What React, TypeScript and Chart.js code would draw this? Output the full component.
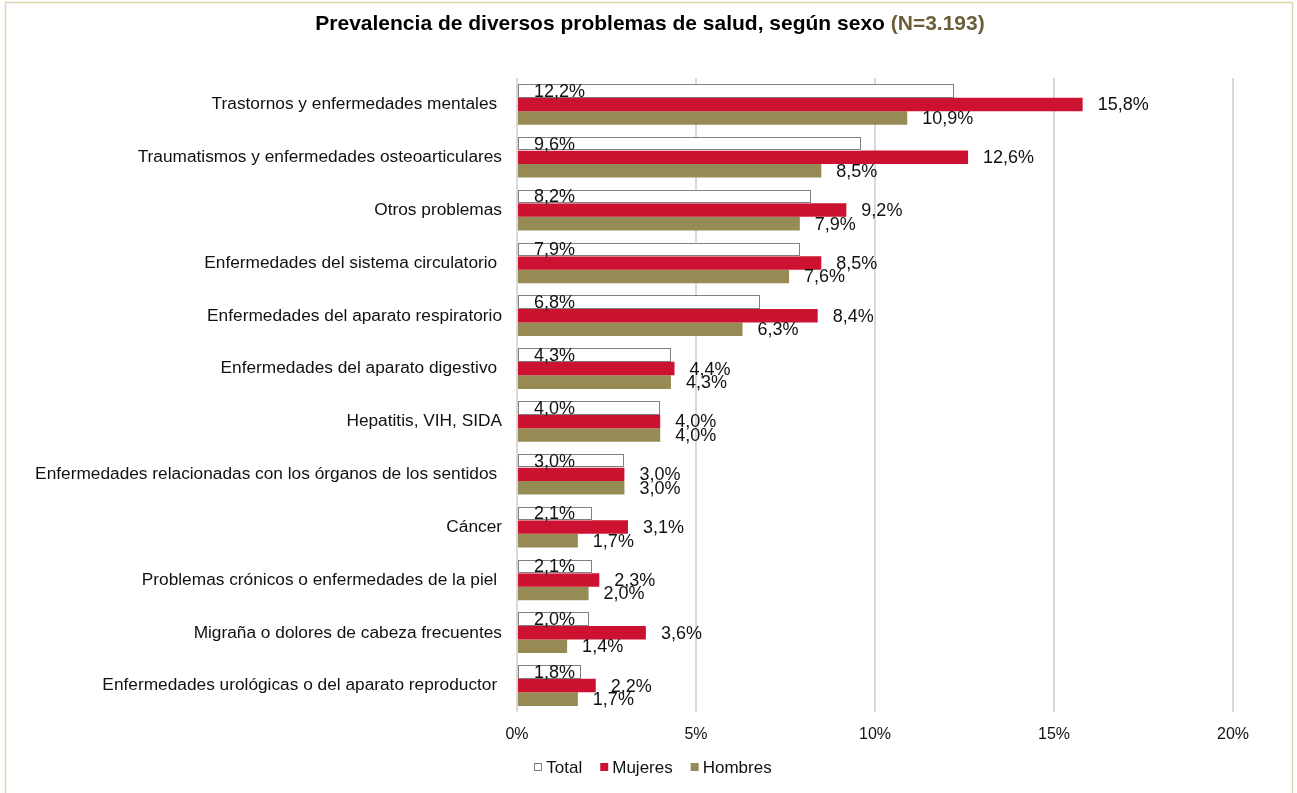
import React, { useEffect, useRef } from "react";
import { Chart, registerables } from "chart.js";

Chart.register(...registerables);

const categories = [
  "Trastornos y enfermedades mentales ",
  "Traumatismos y enfermedades osteoarticulares",
  "Otros problemas",
  "Enfermedades del sistema circulatorio ",
  "Enfermedades del aparato respiratorio",
  "Enfermedades del aparato digestivo ",
  "Hepatitis, VIH, SIDA",
  "Enfermedades relacionadas con los órganos de los sentidos ",
  "Cáncer",
  "Problemas crónicos o enfermedades de la piel ",
  "Migraña o dolores de cabeza frecuentes",
  "Enfermedades urológicas o del aparato reproductor ",
];
const totalValues = [12.2, 9.6, 8.2, 7.9, 6.8, 4.3, 4.0, 3.0, 2.1, 2.1, 2.0, 1.8];
const mujeresValues = [15.8, 12.6, 9.2, 8.5, 8.4, 4.4, 4.0, 3.0, 3.1, 2.3, 3.6, 2.2];
const hombresValues = [10.9, 8.5, 7.9, 7.6, 6.3, 4.3, 4.0, 3.0, 1.7, 2.0, 1.4, 1.7];
const seriesNames = ["Total", "Mujeres", "Hombres"];
const xTicks = [0, 5, 10, 15, 20];

const RED = "#CC1230";
const OLIVE = "#978B55";
const FONT = "'Liberation Sans', Arial, sans-serif";

const fmt = (v: number) => v.toFixed(1).replace(".", ",") + "%";

const decorPlugin = {
  id: "decor",
  beforeDraw(chart: any) {
    const ctx = chart.ctx;
    ctx.save();
    ctx.fillStyle = "#ffffff";
    ctx.fillRect(0, 0, chart.width, chart.height);
    ctx.strokeStyle = "#DDD3B0";
    ctx.lineWidth = 1.5;
    ctx.strokeRect(5.5, 2.5, 1287, 900);
    ctx.restore();
  },
  afterDatasetsDraw(chart: any) {
    const ctx = chart.ctx;
    ctx.save();
    // dotted border on Total bars
    const meta0 = chart.getDatasetMeta(0);
    ctx.strokeStyle = "#000";
    ctx.lineWidth = 1;
    ctx.setLineDash([1, 1]);
    meta0.data.forEach((el: any) => {
      const p = el.getProps(["x", "y", "base", "height"], true);
      const x0 = Math.round(p.base) + 0.5;
      const x1 = Math.round(p.x) - 0.5;
      const y0 = Math.round(p.y - p.height / 2) + 0.5;
      const y1 = Math.round(p.y + p.height / 2) - 0.5;
      ctx.strokeRect(x0, y0, x1 - x0, y1 - y0);
    });
    ctx.setLineDash([]);

    // data labels
    ctx.font = `18px ${FONT}`;
    ctx.fillStyle = "#111";
    ctx.textBaseline = "middle";
    ctx.textAlign = "left";
    chart.data.datasets.forEach((ds: any, di: number) => {
      const meta = chart.getDatasetMeta(di);
      meta.data.forEach((el: any, i: number) => {
        const p = el.getProps(["x", "y", "base"], true);
        const v = ds.data[i];
        if (di === 0) {
          ctx.fillText(fmt(v), p.base + 16, p.y + 1);
        } else {
          ctx.fillText(fmt(v), p.x + 15, p.y + 1);
        }
      });
    });

    // title
    ctx.font = `bold 21px ${FONT}`;
    ctx.textBaseline = "middle";
    const t1 = "Prevalencia de diversos problemas de salud, según sexo ";
    const t2 = "(N=3.193)";
    const w1 = ctx.measureText(t1).width;
    const w2 = ctx.measureText(t2).width;
    const tx = 650 - (w1 + w2) / 2;
    ctx.textAlign = "left";
    ctx.fillStyle = "#000";
    ctx.fillText(t1, tx, 24);
    ctx.fillStyle = "#6B5F3B";
    ctx.fillText(t2, tx + w1, 24);

    // legend
    ctx.font = `17px ${FONT}`;
    const colors = ["#fff", RED, OLIVE];
    const box = 8;
    const gapText = 4;
    const gapItem = 18;
    const widths = seriesNames.map((n) => box + gapText + ctx.measureText(n).width);
    const totalW = widths.reduce((a, b) => a + b, 0) + gapItem * (seriesNames.length - 1);
    let lx = 653 - totalW / 2;
    const ly = 767;
    seriesNames.forEach((n, i) => {
      ctx.fillStyle = colors[i];
      ctx.fillRect(lx, ly - box / 2, box, box);
      if (i === 0) {
        ctx.strokeStyle = "#000";
        ctx.lineWidth = 1;
        ctx.setLineDash([1, 1]);
        ctx.strokeRect(Math.round(lx) + 0.5, Math.round(ly - box / 2) + 0.5, box - 1, box - 1);
        ctx.setLineDash([]);
      }
      ctx.fillStyle = "#111";
      ctx.fillText(n, lx + box + gapText, ly + 1);
      lx += widths[i] + gapItem;
    });
    ctx.restore();
  },
};

export default function App() {
  const ref = useRef<HTMLCanvasElement | null>(null);
  useEffect(() => {
    if (!ref.current) return;
    const chart = new Chart(ref.current, {
      type: "bar",
      data: {
        labels: categories,
        datasets: [
          { label: seriesNames[0], data: totalValues, backgroundColor: "#ffffff", borderWidth: 0 },
          { label: seriesNames[1], data: mujeresValues, backgroundColor: RED, borderWidth: 0 },
          { label: seriesNames[2], data: hombresValues, backgroundColor: OLIVE, borderWidth: 0 },
        ],
      },
      options: {
        indexAxis: "y",
        responsive: false,
        animation: false,
        events: [],
        layout: { padding: { top: 78, right: 64, bottom: 0, left: 0 } },
        datasets: { bar: { categoryPercentage: 0.77, barPercentage: 1 } },
        plugins: {
          legend: { display: false },
          title: { display: false },
          tooltip: { enabled: false },
        },
        scales: {
          x: {
            min: 0,
            max: 20,
            afterFit(scale: any) {
              scale.height = 81;
            },
            afterBuildTicks(scale: any) {
              scale.ticks = xTicks.map((v) => ({ value: v }));
            },
            ticks: {
              callback: (v: any) => v + "%",
              font: { family: FONT, size: 16 },
              color: "#111",
              padding: 13,
              maxRotation: 0,
            },
            grid: { color: "#D9D9D9", lineWidth: 2, drawTicks: false },
            border: { display: false },
          },
          y: {
            afterFit(scale: any) {
              scale.width = 517;
            },
            ticks: {
              font: { family: FONT, size: 17.3 },
              color: "#111",
              padding: 15,
              autoSkip: false,
            },
            grid: { display: false, drawTicks: false },
            border: { display: false },
          },
        },
      },
      plugins: [decorPlugin],
    });
    return () => chart.destroy();
  }, []);
  return (
    <div style={{ position: "absolute", left: 0, top: 0, width: 1297, height: 793, background: "#fff" }}>
      <canvas ref={ref} width={1297} height={793} style={{ display: "block" }} />
    </div>
  );
}
